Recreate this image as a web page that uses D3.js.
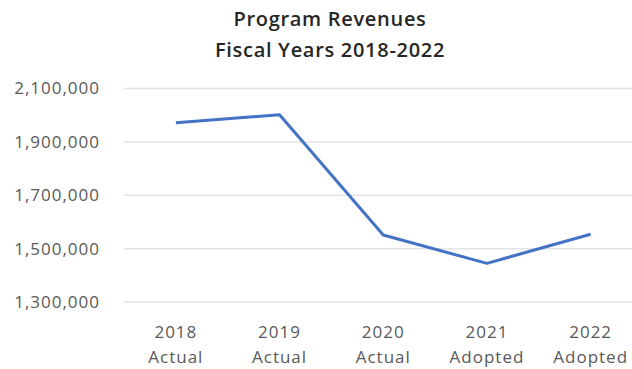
<!DOCTYPE html>
<html>
<head>
<meta charset="utf-8">
<script src="https://cdn.jsdelivr.net/npm/d3@7/dist/d3.min.js"></script>
<style>
  html, body { margin: 0; padding: 0; background: #fff; }
  svg { display: block; }
  text { font-family: "Open Sans", "Noto Sans", sans-serif; }
</style>
</head>
<body>
<svg id="chart" width="632" height="369"></svg>
<script>
// Program revenues by fiscal year
const years = ["2018", "2019", "2020", "2021", "2022"];
const status = ["Actual", "Actual", "Actual", "Adopted", "Adopted"];
const revenues = [1970000, 2000000, 1549000, 1443000, 1552000];
const yTicks = [1300000, 1500000, 1700000, 1900000, 2100000];
const titleLines = ["Program Revenues", "Fiscal Years 2018-2022"];

const data = years.map((y, i) => ({ year: y, status: status[i], value: revenues[i] }));

const svg = d3.select("#chart");
const W = 632, H = 369;

const x = d3.scalePoint()
  .domain(years)
  .range([124, 642.5])
  .padding(0.5);

const y = d3.scaleLinear()
  .domain([1300000, 2100000])
  .range([301.5, 88]);

// Title
svg.append("g")
  .selectAll("text")
  .data(titleLines)
  .join("text")
  .attr("x", 330)
  .attr("y", (d, i) => i === 0 ? 26 : 57)
  .attr("text-anchor", "middle")
  .attr("font-size", 20)
  .attr("font-weight", 600)
  .attr("letter-spacing", 0.7)
  .attr("fill", "#262626")
  .text(d => d);

// Horizontal gridlines and value labels
const yAxis = d3.axisLeft(y)
  .tickValues(yTicks)
  .tickFormat(d3.format(","))
  .tickSize(-(W - 124))
  .tickPadding(24);

const gy = svg.append("g")
  .attr("transform", "translate(124,0)")
  .call(yAxis);
gy.select(".domain").remove();
gy.selectAll(".tick line")
  .attr("stroke", "#e4e4e4")
  .attr("stroke-width", 1.5);
gy.selectAll(".tick text")
  .attr("font-size", 17)
  .attr("letter-spacing", 1)
  .attr("fill", "#595959")
  .attr("dy", "0.35em");

// Category labels (year and status on two lines)
const gx = svg.append("g");
const cat = gx.selectAll("g")
  .data(data)
  .join("g")
  .attr("transform", d => `translate(${x(d.year)},0)`);
cat.append("text")
  .attr("y", 338)
  .attr("text-anchor", "middle")
  .attr("font-size", 17)
  .attr("letter-spacing", 1)
  .attr("fill", "#595959")
  .text(d => d.year);
cat.append("text")
  .attr("y", 363)
  .attr("text-anchor", "middle")
  .attr("font-size", 17)
  .attr("letter-spacing", 1)
  .attr("fill", "#595959")
  .text(d => d.status);

// Revenue line
const line = d3.line()
  .x(d => x(d.year))
  .y(d => y(d.value));

svg.append("path")
  .datum(data)
  .attr("d", line)
  .attr("fill", "none")
  .attr("stroke", "#4472C4")
  .attr("stroke-width", 3)
  .attr("stroke-linejoin", "round");
</script>
</body>
</html>
